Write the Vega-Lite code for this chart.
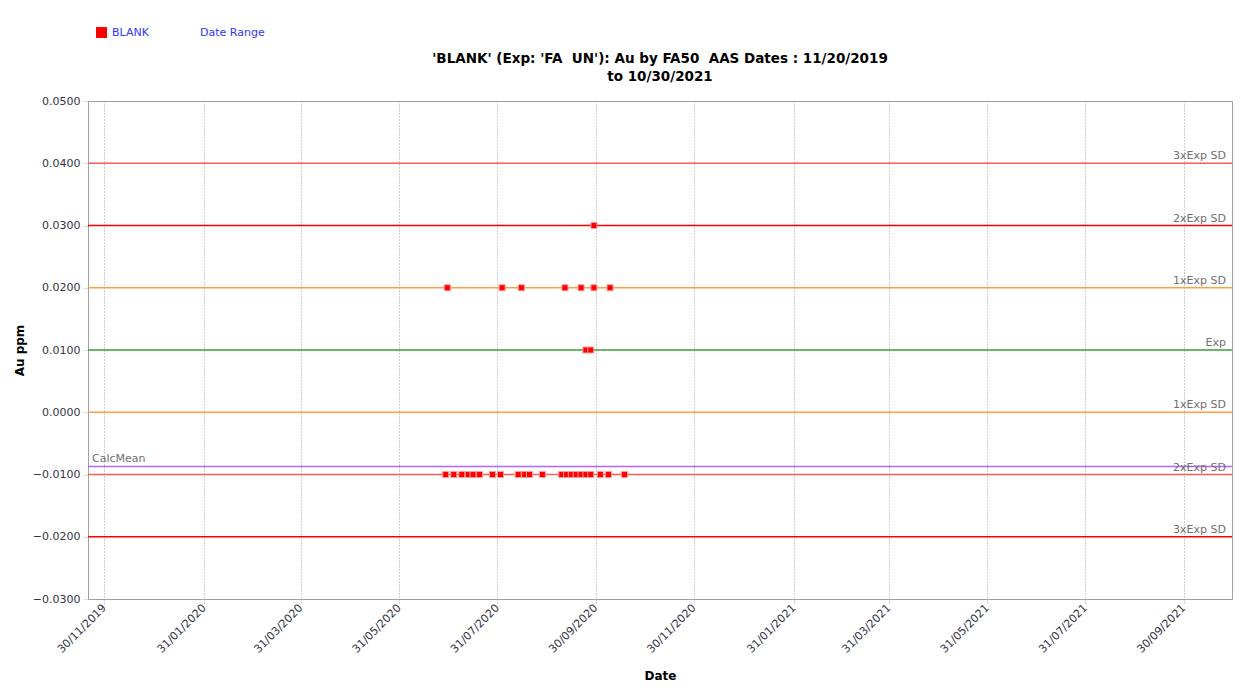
{
  "$schema": "https://vega.github.io/schema/vega-lite/v6.json",
  "width": 1144,
  "height": 498,
  "autosize": {"type": "none"},
  "padding": {"left": 88, "top": 101, "right": 28, "bottom": 91},
  "background": "white",
  "title": {
    "text": ["'BLANK' (Exp: 'FA\u00a0 UN'): Au by FA50\u00a0 AAS Dates : 11/20/2019", "to 10/30/2021"],
    "font": "DejaVu Sans",
    "fontSize": 13.5,
    "fontWeight": "bold",
    "color": "#000000",
    "anchor": "middle",
    "offset": 20,
    "dy": 76,
    "lineHeight": 18
  },
  "config": {
    "view": {"stroke": "#a0a0a0", "strokeWidth": 1},
    "font": "DejaVu Sans"
  },
  "datasets": {
    "points": [
      {"date": "2020-06-30", "value": 0.02, "series": "BLANK"},
      {"date": "2020-08-03", "value": 0.02, "series": "BLANK"},
      {"date": "2020-08-15", "value": 0.02, "series": "BLANK"},
      {"date": "2020-09-11", "value": 0.02, "series": "BLANK"},
      {"date": "2020-09-21", "value": 0.02, "series": "BLANK"},
      {"date": "2020-09-29", "value": 0.02, "series": "BLANK"},
      {"date": "2020-10-09", "value": 0.02, "series": "BLANK"},
      {"date": "2020-09-29", "value": 0.03, "series": "BLANK"},
      {"date": "2020-09-24", "value": 0.01, "series": "BLANK"},
      {"date": "2020-09-27", "value": 0.01, "series": "BLANK"},
      {"date": "2020-06-29", "value": -0.01, "series": "BLANK"},
      {"date": "2020-07-04", "value": -0.01, "series": "BLANK"},
      {"date": "2020-07-09", "value": -0.01, "series": "BLANK"},
      {"date": "2020-07-13", "value": -0.01, "series": "BLANK"},
      {"date": "2020-07-16", "value": -0.01, "series": "BLANK"},
      {"date": "2020-07-20", "value": -0.01, "series": "BLANK"},
      {"date": "2020-07-28", "value": -0.01, "series": "BLANK"},
      {"date": "2020-08-02", "value": -0.01, "series": "BLANK"},
      {"date": "2020-08-13", "value": -0.01, "series": "BLANK"},
      {"date": "2020-08-17", "value": -0.01, "series": "BLANK"},
      {"date": "2020-08-20", "value": -0.01, "series": "BLANK"},
      {"date": "2020-08-28", "value": -0.01, "series": "BLANK"},
      {"date": "2020-09-09", "value": -0.01, "series": "BLANK"},
      {"date": "2020-09-12", "value": -0.01, "series": "BLANK"},
      {"date": "2020-09-15", "value": -0.01, "series": "BLANK"},
      {"date": "2020-09-18", "value": -0.01, "series": "BLANK"},
      {"date": "2020-09-21", "value": -0.01, "series": "BLANK"},
      {"date": "2020-09-24", "value": -0.01, "series": "BLANK"},
      {"date": "2020-09-27", "value": -0.01, "series": "BLANK"},
      {"date": "2020-10-03", "value": -0.01, "series": "BLANK"},
      {"date": "2020-10-08", "value": -0.01, "series": "BLANK"},
      {"date": "2020-10-18", "value": -0.01, "series": "BLANK"}
    ],
    "lines": [
      {"value": 0.04, "label": "3xExp SD", "grp": "a"},
      {"value": 0.03, "label": "2xExp SD", "grp": "b"},
      {"value": 0.02, "label": "1xExp SD", "grp": "c"},
      {"value": 0.01, "label": "Exp", "grp": "d"},
      {"value": 0.0, "label": "1xExp SD", "grp": "c"},
      {"value": -0.01, "label": "2xExp SD", "grp": "a"},
      {"value": -0.02, "label": "3xExp SD", "grp": "b"},
      {"value": -0.0087, "label": "CalcMean", "grp": "e"}
    ]
  },
  "layer": [
    {
      "data": {"name": "lines"},
      "mark": {"type": "rule", "strokeWidth": 1.5},
      "encoding": {
        "y": {"field": "value", "type": "quantitative", "scale": {"domain": [-0.03, 0.05], "zero": false, "nice": false}},
        "stroke": {
          "field": "grp",
          "type": "nominal",
          "scale": {"domain": ["a", "b", "c", "d", "e"], "range": ["#ff5a5a", "#ff0000", "#ffa040", "#3c9a3c", "#b266ff"]},
          "legend": null
        }
      }
    },
    {
      "data": {"name": "lines"},
      "transform": [{"filter": "datum.label !== 'CalcMean'"}],
      "mark": {"type": "text", "align": "right", "baseline": "bottom", "dx": -6, "dy": -2, "fontSize": 11, "color": "#707070"},
      "encoding": {
        "x": {"datum": {"year": 2021, "month": 10, "date": 30, "utc": true}, "type": "temporal"},
        "y": {"field": "value", "type": "quantitative"},
        "text": {"field": "label"}
      }
    },
    {
      "data": {"name": "lines"},
      "transform": [{"filter": "datum.label === 'CalcMean'"}],
      "mark": {"type": "text", "align": "left", "baseline": "bottom", "dx": 4, "dy": -2, "fontSize": 11, "color": "#707070"},
      "encoding": {
        "x": {"datum": {"year": 2019, "month": 11, "date": 20, "utc": true}, "type": "temporal"},
        "y": {"field": "value", "type": "quantitative"},
        "text": {"field": "label"}
      }
    },
    {
      "data": {"name": "points"},
      "mark": {"type": "point", "shape": "square", "filled": true, "size": 36, "stroke": "#ff9a9a", "strokeWidth": 1, "opacity": 1},
      "encoding": {
        "x": {
          "field": "date",
          "type": "temporal",
          "scale": {"type": "utc", "domain": [{"year": 2019, "month": 11, "date": 20, "utc": true}, {"year": 2021, "month": 10, "date": 30, "utc": true}], "nice": false},
          "axis": {
            "title": "Date",
            "titleFont": "DejaVu Sans",
            "titleFontSize": 12,
            "titleFontWeight": "bold",
            "titleColor": "#000000",
            "titlePadding": 16,
            "labelExpr": "utcFormat(datum.value, '%d/%m/%Y')",
            "values": [
              {"year": 2019, "month": 11, "date": 30, "utc": true},
              {"year": 2020, "month": 1, "date": 31, "utc": true},
              {"year": 2020, "month": 3, "date": 31, "utc": true},
              {"year": 2020, "month": 5, "date": 31, "utc": true},
              {"year": 2020, "month": 7, "date": 31, "utc": true},
              {"year": 2020, "month": 9, "date": 30, "utc": true},
              {"year": 2020, "month": 11, "date": 30, "utc": true},
              {"year": 2021, "month": 1, "date": 31, "utc": true},
              {"year": 2021, "month": 3, "date": 31, "utc": true},
              {"year": 2021, "month": 5, "date": 31, "utc": true},
              {"year": 2021, "month": 7, "date": 31, "utc": true},
              {"year": 2021, "month": 9, "date": 30, "utc": true}
            ],
            "labelAngle": -45,
            "labelAlign": "right",
            "labelBaseline": "middle",
            "labelFontSize": 11,
            "labelColor": "#333344",
            "labelPadding": 2,
            "labelOverlap": false,
            "grid": true,
            "gridColor": "#9a9a9a",
            "gridDash": [1, 2],
            "gridWidth": 1,
            "ticks": true,
            "tickColor": "#9a9a9a",
            "tickDash": [1, 2],
            "tickSize": 5,
            "domain": false
          }
        },
        "y": {
          "field": "value",
          "type": "quantitative",
          "scale": {"domain": [-0.03, 0.05], "zero": false, "nice": false},
          "axis": {
            "title": "Au ppm",
            "titleFont": "DejaVu Sans",
            "titleFontSize": 12,
            "titleFontWeight": "bold",
            "titleColor": "#000000",
            "titlePadding": 6,
            "values": [-0.03, -0.02, -0.01, 0, 0.01, 0.02, 0.03, 0.04, 0.05],
            "format": ".4f",
            "labelFontSize": 11,
            "labelColor": "#333344",
            "labelPadding": 3,
            "grid": false,
            "ticks": true,
            "tickColor": "#9a9a9a",
            "tickDash": [1, 2],
            "tickSize": 5,
            "domain": false
          }
        },
        "color": {
          "field": "series",
          "type": "nominal",
          "scale": {"domain": ["BLANK", "Date Range"], "range": ["#ff0000", "rgba(0,0,0,0)"]},
          "legend": {
            "orient": "none",
            "legendX": 8,
            "legendY": -74,
            "direction": "horizontal",
            "title": null,
            "symbolType": "square",
            "symbolSize": 120,
            "symbolStrokeWidth": 0,
            "labelColor": "#3333ff",
            "labelFontSize": 11,
            "labelFont": "DejaVu Sans",
            "columnPadding": 35,
            "labelOffset": 5
          }
        }
      }
    }
  ]
}
